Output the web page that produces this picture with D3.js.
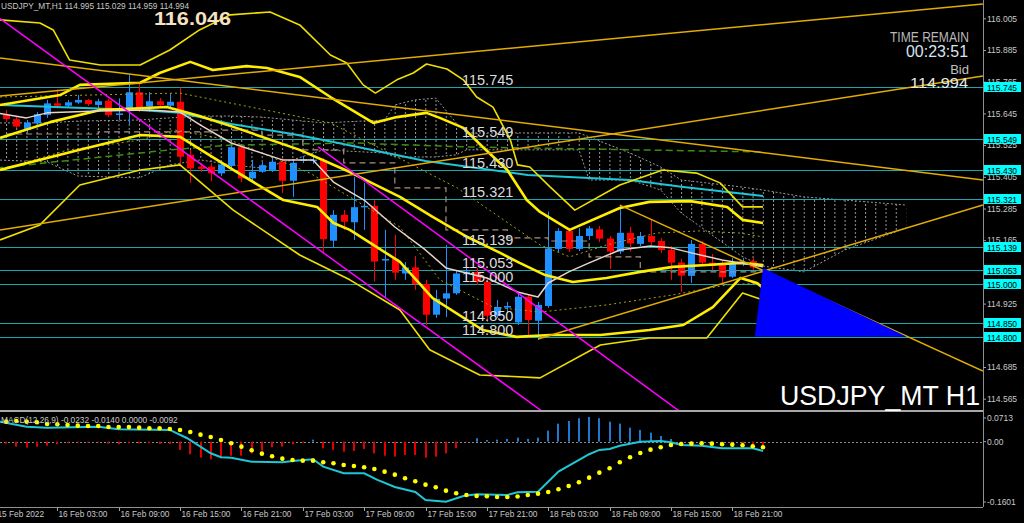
<!DOCTYPE html>
<html><head><meta charset="utf-8">
<script src="https://cdn.jsdelivr.net/npm/d3@7"></script>
<style>body{margin:0;background:#000;overflow:hidden}svg{display:block;font-family:"Liberation Sans",Arial,sans-serif}</style>
</head><body>
<svg id="c" width="1024" height="523"></svg>
<script>
// ---------- DATA ----------
const opens=[115.639,115.623,115.582,115.607,115.639,115.683,115.674,115.686,115.696,115.677,115.693,115.639,115.655,115.725,115.671,115.691,115.674,115.689,115.488,115.443,115.443,115.418,115.446,115.517,115.399,115.424,115.431,115.462,115.390,115.465,115.465,115.469,115.163,115.261,115.233,115.290,115.295,115.088,115.094,115.039,115.062,114.999,114.883,114.944,114.964,115.041,115.045,115.008,114.879,114.910,114.854,114.951,114.860,114.916,115.132,115.200,115.132,115.181,115.206,115.171,115.122,115.193,115.151,115.181,115.162,115.128,115.080,115.030,115.151,115.080,115.074,115.027,115.075,115.086,114.995];
const highs=[115.658,115.635,115.620,115.650,115.696,115.736,115.696,115.715,115.700,115.700,115.700,115.702,115.790,115.761,115.726,115.703,115.722,115.744,115.507,115.457,115.457,115.469,115.526,115.526,115.469,115.461,115.476,115.476,115.469,115.484,115.480,115.476,115.279,115.279,115.405,115.382,115.317,115.204,115.185,115.082,115.105,115.015,114.977,115.147,115.052,115.060,115.060,115.018,114.939,114.931,114.965,114.961,114.931,115.273,115.211,115.211,115.211,115.219,115.219,115.181,115.298,115.216,115.196,115.242,115.174,115.143,115.094,115.166,115.162,115.113,115.090,115.098,115.098,115.098,115.029];
const lows=[115.612,115.590,115.571,115.601,115.628,115.665,115.665,115.681,115.673,115.665,115.631,115.620,115.605,115.650,115.650,115.673,115.669,115.443,115.382,115.423,115.389,115.408,115.439,115.385,115.389,115.420,115.423,115.344,115.329,115.457,115.454,115.117,115.136,115.204,115.166,115.204,115.008,114.946,115.015,115.015,114.977,114.844,114.871,114.874,114.958,115.015,114.996,114.855,114.871,114.893,114.844,114.795,114.787,114.909,115.120,115.120,115.124,115.166,115.158,115.056,115.113,115.122,115.143,115.147,115.117,115.015,114.970,115.003,115.067,115.052,115.003,115.022,115.067,115.052,114.959];
const closes=[115.624,115.595,115.610,115.642,115.683,115.674,115.687,115.696,115.680,115.691,115.639,115.645,115.725,115.655,115.691,115.677,115.689,115.481,115.437,115.435,115.418,115.452,115.517,115.399,115.424,115.449,115.462,115.390,115.458,115.471,115.470,115.169,115.261,115.235,115.290,115.295,115.084,115.094,115.042,115.062,114.999,114.883,114.943,114.964,115.039,115.046,115.007,114.879,114.912,114.916,114.951,114.863,114.920,115.134,115.200,115.132,115.181,115.210,115.171,115.122,115.193,115.153,115.181,115.158,115.128,115.080,115.031,115.151,115.080,115.068,115.025,115.078,115.083,115.062,114.994];

// bar-index / price pairs for indicator lines
const maLong=[[-1,115.677],[13,115.658],[17,115.647],[22,115.605],[28,115.567],[32,115.537],[41,115.465],[51,115.412],[61,115.393],[66,115.367],[74,115.332]];
const maShort=[[-1,115.647],[2,115.628],[4,115.647],[9,115.654],[14,115.658],[17,115.650],[19,115.601],[22,115.533],[27,115.469],[30,115.469],[32,115.385],[35,115.317],[38,115.215],[41,115.128],[43,115.060],[47,115.022],[50,114.969],[52,114.950],[53,115.003],[55,115.045],[57,115.079],[60,115.128],[63,115.143],[65,115.136],[67,115.117],[70,115.090],[73,115.071],[74,115.064]];
const bbMid=[[-0.6,115.552],[4.3,115.612],[9.2,115.658],[15.7,115.669],[18.9,115.635],[22.2,115.594],[28.7,115.507],[33.6,115.423],[38.5,115.329],[41.7,115.253],[45.1,115.177],[48.3,115.117],[50.2,115.079],[52.7,115.033],[55.4,115.007],[58.7,115.022],[62,115.045],[65.2,115.064],[68.5,115.071],[71.8,115.079],[74,115.071]];
const bbUp1=[[-0.6,115.677],[5.3,115.715],[7.2,115.753],[13.1,115.761],[15,115.798],[18,115.840],[20.2,115.809],[23.5,115.824],[25.5,115.817],[28.7,115.783],[31.7,115.707],[35.9,115.609],[38.2,115.631],[41.1,115.647],[42.4,115.628],[44.7,115.590],[46.6,115.518],[49,115.431],[50.9,115.317],[52.2,115.272],[55.1,115.204],[60,115.287],[62.9,115.310],[66.9,115.313],[70.5,115.291],[72,115.242],[74,115.230]];
const bbDn1=[[-0.6,115.431],[7.2,115.507],[13.1,115.563],[17,115.556],[22.2,115.431],[27.1,115.317],[30.4,115.291],[32,115.230],[33.6,115.204],[38.5,115.083],[41.7,114.946],[46.6,114.825],[49.9,114.799],[53.2,114.806],[58.1,114.806],[62.9,114.825],[66.2,114.844],[69.1,114.912],[71.8,115.022],[73.4,115.003],[74,114.984]];
const bbUp2=[[-0.6,115.999],[3.3,115.987],[4.6,115.961],[6.2,115.847],[9.2,115.828],[13.1,115.828],[16,115.885],[18.9,115.961],[21.9,116.018],[25.8,116.029],[28.7,115.980],[31.7,115.866],[33.3,115.836],[34.9,115.753],[36.1,115.722],[38.2,115.772],[39.8,115.798],[41.1,115.832],[43.1,115.813],[44.7,115.772],[46,115.707],[47.6,115.669],[49.3,115.544],[50,115.450],[51.2,115.442],[53.2,115.366],[55.6,115.279],[60,115.374],[64.2,115.431],[67.5,115.419],[69.8,115.382],[72,115.291],[74,115.291]];
const bbDn2=[[-0.6,115.166],[3.3,115.223],[7.2,115.374],[13.1,115.431],[17,115.450],[22.2,115.279],[28.7,115.109],[33.6,115.015],[38.5,114.901],[41.4,114.750],[46.3,114.655],[52.2,114.644],[58.1,114.768],[62.9,114.795],[68.5,114.795],[72,114.965],[74,114.939]];
const envUp=[[-0.6,115.707],[17,115.722],[31.7,115.609],[44.1,115.363],[52.2,115.147],[55.1,115.102],[58.7,115.147],[63.6,115.192],[67.8,115.200],[71.8,115.192],[74,115.177]];
const envDn=[[-0.6,115.431],[6,115.506],[13.1,115.544],[16.5,115.582],[21.9,115.544],[29.7,115.419],[38.5,115.215],[42.4,115.015],[47.6,114.912],[52.2,114.893],[58.7,114.920],[65.2,114.958],[70.5,114.996],[74,115.003]];
const kijunIdx=[0,9,20,25,29,33,38,43,49,53,57,62,74];
const kijunVal=[115.567,115.575,115.582,115.563,115.507,115.458,115.363,115.204,115.174,115.162,115.102,115.045,115.045];
const greenMA=[[-1,115.438],[16,115.507],[22,115.525],[34,115.533],[45,115.518],[74,115.499]];
const cloudIdx=[-1,4,7,13,16,19,22,25,28,31,37,38,40,42,44,45,56,57,61,64,66,72,74,78,82,88];
const cloudTop=[115.609,115.609,115.616,115.620,115.628,115.635,115.635,115.631,115.620,115.609,115.620,115.677,115.696,115.703,115.609,115.571,115.571,115.556,115.495,115.442,115.393,115.366,115.355,115.329,115.317,115.298];
const cloudBot=[115.469,115.461,115.408,115.401,115.450,115.469,115.450,115.438,115.469,115.507,115.495,115.480,115.480,115.480,115.488,115.507,115.507,115.393,115.393,115.355,115.268,115.102,115.067,115.045,115.128,115.211];

// objects
const levels=[115.745,115.549,115.430,115.321,115.139,115.053,115.000,114.850,114.800];
const goldLines=[[[-0.6,115.711],[95.5,116.059]],[[-0.6,115.855],[95.5,115.393]],[[-0.6,115.204],[95.5,115.787]],[[52.0,114.791],[95.5,115.298]],[[60.0,115.298],[95.5,114.670]]];
const magentaLines=[[[-0.6,116.004],[54.2,114.467]],[[30.5,115.518],[67.8,114.462]]];
const triangle=[[74,115.060],[73.2,114.800],[88,114.800]];

// MACD
const macdHist=[-0.005,-0.0124,-0.0149,-0.0124,-0.0100,-0.0065,-0.0040,-0.0025,-0.0025,-0.0025,-0.0050,-0.0065,-0.0040,-0.0040,-0.0040,-0.0057,-0.0057,-0.0206,-0.0313,-0.0398,-0.0438,-0.0413,-0.0348,-0.0348,-0.0289,-0.0224,-0.0139,-0.0124,-0.0065,-0.0025,0.0050,-0.0164,-0.0206,-0.0249,-0.0231,-0.0182,-0.0289,-0.0348,-0.0373,-0.0331,-0.0331,-0.0398,-0.0373,-0.0289,-0.0164,-0.0015,0.0085,0.0042,0.0050,0.0067,0.0100,0.0067,0.0100,0.0274,0.0448,0.0515,0.0582,0.0614,0.0582,0.0498,0.0448,0.0348,0.0291,0.0224,0.0142,0.0067,-0.0065,-0.0032,-0.0065,-0.0065,-0.0100,-0.0124,-0.0132,-0.0065,-0.0092];
const macdSignal=[0.0498,0.0515,0.0498,0.0482,0.0440,0.0433,0.0415,0.0398,0.0390,0.0390,0.0366,0.0366,0.0366,0.0348,0.0333,0.0333,0.0316,0.0291,0.0241,0.0174,0.0117,0.0042,-0.0040,-0.0124,-0.0214,-0.0299,-0.0363,-0.0423,-0.0455,-0.0473,-0.0473,-0.0512,-0.0537,-0.0580,-0.0604,-0.0637,-0.0679,-0.0746,-0.0821,-0.0910,-0.0985,-0.1070,-0.1134,-0.1219,-0.1284,-0.1326,-0.1351,-0.1358,-0.1376,-0.1376,-0.1363,-0.1326,-0.1294,-0.1251,-0.1184,-0.1102,-0.1010,-0.0896,-0.0771,-0.0662,-0.0512,-0.0388,-0.0281,-0.0199,-0.0139,-0.0082,-0.0057,-0.0050,-0.0040,-0.0050,-0.0065,-0.0075,-0.0090,-0.0114,-0.0140];
const macdMain=[[-1,0.0515],[2,0.0373],[4,0.0348],[9,0.0373],[11,0.0308],[16,0.0291],[17.7,0.0085],[20,-0.0289],[21,-0.0388],[22,-0.0398],[24,-0.0498],[27,-0.0512],[28,-0.0480],[30,-0.0438],[31,-0.0622],[33,-0.0786],[35,-0.0786],[36.3,-0.0953],[38,-0.1127],[40,-0.1251],[41,-0.1450],[43,-0.1493],[44.7,-0.1351],[46,-0.1308],[49,-0.1326],[50,-0.1259],[52,-0.1244],[54,-0.0746],[57,-0.0313],[58,-0.0206],[59,-0.0182],[60,-0.0100],[62,0],[64,0.0017],[65,-0.0015],[66,-0.0082],[68,-0.0100],[70,-0.0164],[73,-0.0164],[74,-0.0232]];

// axis
const priceTicks=[116.005,115.885,115.765,115.645,115.525,115.405,115.285,115.165,114.925,114.685,114.565];
const macdTicks=[0.0713,0,-0.1601];
const timeTickBars=[-1,5,11,17,23,29,35,41,47,53,59,65,71];
const timeTickLabels=["15 Feb 2022","16 Feb 03:00","16 Feb 09:00","16 Feb 15:00","16 Feb 21:00","17 Feb 03:00","17 Feb 09:00","17 Feb 15:00","17 Feb 21:00","18 Feb 03:00","18 Feb 09:00","18 Feb 15:00","18 Feb 21:00"];

// ---------- DRAW ----------
const svg=d3.select('#c');
const PW=983, MAINH=410, MT=412, MB=507;
const step=10.227;
const xs=d3.scaleLinear().domain([0,74]).range([6.2,6.2+74*step]);
const yp=d3.scaleLinear().domain([116.005,114.565]).range([18.3,398.7]);
const ym=d3.scaleLinear().domain([0.0713,-0.1601]).range([413,506]);

svg.append('rect').attr('width',1024).attr('height',523).attr('fill','#000');
const defs=svg.append('defs');
defs.append('clipPath').attr('id','cm').append('rect').attr('x',0).attr('y',0).attr('width',PW).attr('height',MAINH);
defs.append('clipPath').attr('id','cd').append('rect').attr('x',0).attr('y',MT).attr('width',PW).attr('height',MB-MT);
const pat=defs.append('pattern').attr('id','hatch').attr('patternUnits','userSpaceOnUse')
  .attr('width',step).attr('height',4).attr('x',Math.round(xs(0))).attr('y',0);
pat.append('rect').attr('x',0).attr('y',0).attr('width',1).attr('height',2).attr('fill','#9a9a9a');

const main=svg.append('g').attr('clip-path','url(#cm)');
const line=d3.line().x(d=>xs(d[0])).y(d=>yp(d[1]));

// ichimoku-like cloud
const cloud=cloudIdx.map((d,k)=>({i:d,t:cloudTop[k],b:cloudBot[k]}));
main.append('path').datum(cloud)
  .attr('d',d3.area().x(d=>xs(d.i)).y0(d=>yp(d.t)).y1(d=>yp(d.b)))
  .attr('fill','url(#hatch)');
['t','b'].forEach(k=>{
  main.append('path').datum(cloud).attr('d',d3.line().x(d=>xs(d.i)).y(d=>yp(d[k])))
   .attr('fill','none').attr('stroke','#9a9a9a').attr('stroke-width',1).attr('stroke-dasharray','2,2');
});

// horizontal levels
main.selectAll('.lv').data(levels).join('line').attr('x1',0).attr('x2',PW)
  .attr('y1',d=>Math.round(yp(d))+0.5).attr('y2',d=>Math.round(yp(d))+0.5)
  .attr('stroke','#1aa7ad').attr('stroke-width',1);

// candles
const bars=d3.range(opens.length).map(i=>({i,o:opens[i],h:highs[i],l:lows[i],c:closes[i]}));
const cg=main.append('g');
cg.selectAll('.wk').data(bars).join('line')
  .attr('x1',d=>Math.round(xs(d.i))+0.5).attr('x2',d=>Math.round(xs(d.i))+0.5)
  .attr('y1',d=>yp(d.h)).attr('y2',d=>yp(d.l))
  .attr('stroke',d=>d.c>=d.o?'#1e90ff':'#ff0000').attr('stroke-width',1);
cg.selectAll('.bd').data(bars).join('rect')
  .attr('x',d=>Math.round(xs(d.i))-3).attr('width',7)
  .attr('y',d=>yp(Math.max(d.o,d.c))).attr('height',d=>Math.max(1.5,Math.abs(yp(d.o)-yp(d.c))))
  .attr('fill',d=>d.c>=d.o?'#1e90ff':'#ff0000');

// indicator lines
function pl(data,color,w,dash){
  const p=main.append('path').datum(data).attr('d',line).attr('fill','none')
    .attr('stroke',color).attr('stroke-width',w).attr('stroke-linejoin','round');
  if(dash)p.attr('stroke-dasharray',dash);
  return p;
}
pl(envUp,'#a8a010',1,'2,3');
pl(envDn,'#a8a010',1,'2,3');
main.append('path').datum(kijunIdx.map((d,k)=>[d,kijunVal[k]]))
  .attr('d',d3.line().x(d=>xs(d[0])).y(d=>yp(d[1])).curve(d3.curveStepAfter))
  .attr('fill','none').attr('stroke','#a89080').attr('stroke-width',1.2).attr('stroke-dasharray','6,4');
pl(greenMA,'#3c8c10',1.5,'7,4');
pl(maLong,'#1fc6d6',2);
pl(bbUp2,'#f0e000',1.6);
pl(bbDn2,'#f0e000',1.6);
pl(bbUp1,'#ffee00',2.6);
pl(bbDn1,'#ffee00',2.6);
pl(bbMid,'#ffee00',2.6);
pl(maShort,'#e8d4c8',1.5);

// objects: trend lines
goldLines.forEach(g=>pl(g,'#e2ac00',1.5));
magentaLines.forEach(g=>pl(g,'#ff00ff',1.5));
main.append('polygon').attr('points',triangle.map(d=>[xs(d[0]),yp(d[1])].join(',')).join(' ')).attr('fill','#0000ff');

// level texts
main.selectAll('.lt').data(levels).join('text').attr('x',462).attr('y',d=>yp(d)-2)
  .attr('fill','#dcdcdc').attr('font-size',14.5).text(d=>d.toFixed(3));

// ---------- MACD panel ----------
const md=svg.append('g').attr('clip-path','url(#cd)');
md.append('line').attr('x1',0).attr('x2',PW).attr('y1',Math.round(ym(0))+0.5).attr('y2',Math.round(ym(0))+0.5)
  .attr('stroke','#8a8a8a').attr('stroke-dasharray','2,2');
md.selectAll('.hb').data(macdHist).join('rect')
  .attr('x',(d,i)=>Math.round(xs(i))-1).attr('width',2)
  .attr('y',d=>Math.min(ym(d),ym(0))).attr('height',d=>Math.abs(ym(d)-ym(0)))
  .attr('fill',d=>d>=0?'#1f78d0':'#e00000');
md.append('path').datum(macdMain).attr('d',d3.line().x(d=>xs(d[0])).y(d=>ym(d[1])))
  .attr('fill','none').attr('stroke','#1fc6d6').attr('stroke-width',2);
md.selectAll('.sg').data(macdSignal).join('circle').attr('cx',(d,i)=>xs(i)).attr('cy',d=>ym(d)).attr('r',2.3).attr('fill','#ffff00');

// ---------- frames / axes ----------
svg.append('rect').attr('x',0).attr('y',MAINH).attr('width',PW).attr('height',2).attr('fill','#a8a8a8');
svg.append('line').attr('x1',PW+0.5).attr('x2',PW+0.5).attr('y1',0).attr('y2',MB).attr('stroke','#909090');
svg.append('line').attr('x1',0).attr('x2',PW).attr('y1',MB+0.5).attr('y2',MB+0.5).attr('stroke','#909090');

const ax=svg.append('g').attr('transform',`translate(${PW},0)`)
  .call(d3.axisRight(yp).tickValues(priceTicks).tickSize(3).tickFormat(d3.format('.3f')));
ax.select('.domain').remove();
ax.selectAll('line').attr('stroke','#a0a0a0');
ax.selectAll('text').attr('fill','#c8c8c8').attr('font-size',8.5).attr('x',4).attr('font-family','Liberation Sans, Arial');

// highlighted level labels
const hl=svg.append('g').selectAll('g').data(levels).join('g').attr('transform',d=>`translate(${PW+1},${Math.round(yp(d))})`);
hl.append('rect').attr('x',0).attr('y',-5).attr('width',37).attr('height',10).attr('fill','#00ffff');
hl.append('text').attr('x',3).attr('y',3.5).attr('font-size',8.5).attr('fill','#000').text(d=>d.toFixed(3));

// macd axis
const mlab=svg.append('g');
macdTicks.forEach(v=>{
  let y=ym(v); if(v===0.0713)y+=5; if(v===-0.1601)y-=4;
  mlab.append('line').attr('x1',PW).attr('x2',PW+3).attr('y1',y).attr('y2',y).attr('stroke','#a0a0a0');
  mlab.append('text').attr('x',PW+4).attr('y',y+3).attr('font-size',8.5).attr('fill','#c8c8c8').text(v===0?'0.00':v.toFixed(4));
});

// time axis
const tg=svg.append('g');
timeTickBars.forEach((b,k)=>{
  const x=Math.round(xs(b))+0.5;
  tg.append('line').attr('x1',x).attr('x2',x).attr('y1',MB).attr('y2',MB+4).attr('stroke','#a0a0a0');
  tg.append('text').attr('x',x+1).attr('y',517).attr('font-size',8.3).attr('fill','#c8c8c8').text(timeTickLabels[k]);
});

// texts
svg.append('text').attr('x',1).attr('y',9).attr('font-size',8.3).attr('fill','#c8c8c8')
  .text('USDJPY_MT,H1  114.995 115.029 114.959 114.994');
svg.append('text').attr('x',154).attr('y',25).attr('font-size',18.5).attr('font-weight','bold').attr('fill','#f8e2c4')
  .attr('textLength',77).attr('lengthAdjust','spacingAndGlyphs').text('116.046');
svg.append('text').attr('x',969).attr('y',42).attr('text-anchor','end').attr('font-size',14.5).attr('fill','#b8b8b8')
  .attr('textLength',79).attr('lengthAdjust','spacingAndGlyphs').text('TIME REMAIN');
svg.append('text').attr('x',968).attr('y',57).attr('text-anchor','end').attr('font-size',17).attr('fill','#d8e4f0')
  .attr('textLength',62).attr('lengthAdjust','spacingAndGlyphs').text('00:23:51');
svg.append('text').attr('x',969).attr('y',74).attr('text-anchor','end').attr('font-size',13).attr('fill','#c0c0c0').text('Bid');
svg.append('text').attr('x',968).attr('y',88).attr('text-anchor','end').attr('font-size',15).attr('fill','#e8e8e8')
  .attr('textLength',58).attr('lengthAdjust','spacingAndGlyphs').text('114.994');
svg.append('text').attr('x',780).attr('y',405).attr('font-size',27).attr('fill','#ffffff')
  .attr('textLength',200).attr('lengthAdjust','spacingAndGlyphs').text('USDJPY_MT H1');
svg.append('text').attr('x',1).attr('y',423).attr('font-size',8.3).attr('fill','#c8c8c8')
  .text('MACD(12,26,9) -0.0232 -0.0140 0.0000 -0.0092');
</script>
</body></html>
